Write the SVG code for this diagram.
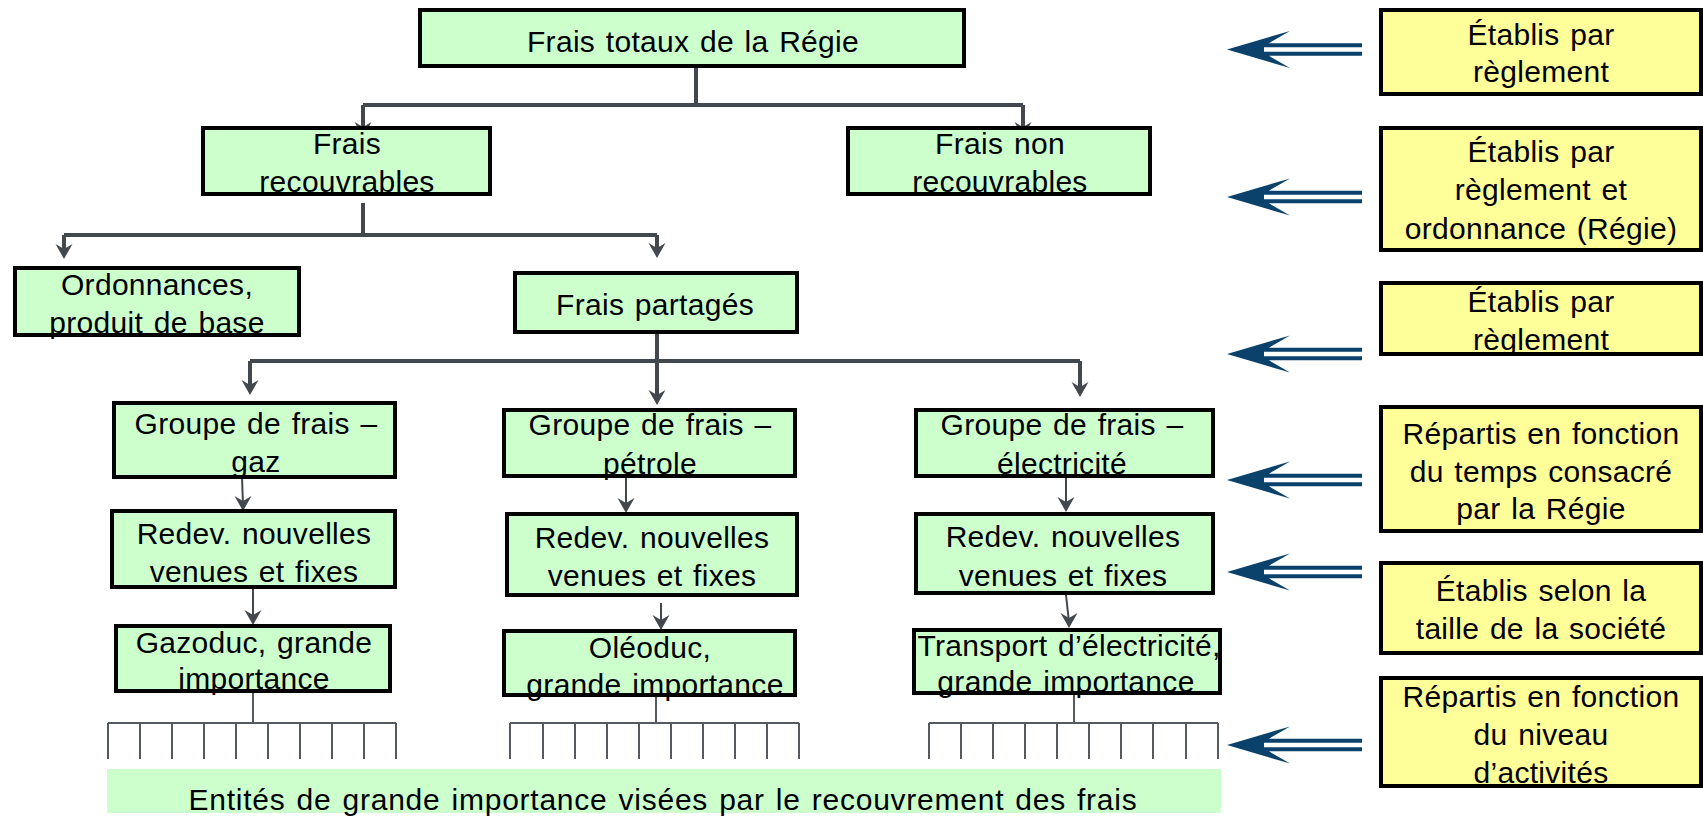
<svg xmlns="http://www.w3.org/2000/svg" xmlns:xlink="http://www.w3.org/1999/xlink" width="1703" height="818" viewBox="0 0 1703 818">
<style>
  .g { fill: #CCFFCC; stroke: #000; stroke-width: 4; }
  .y { fill: #FFFF99; stroke: #000; stroke-width: 4; }
  text { font-family: "Liberation Sans", Arial, sans-serif; font-size: 30px; fill: #000; text-anchor: middle; letter-spacing: 0.3px; word-spacing: 2px; }
  .wide { letter-spacing: 0.75px; }
  .c { fill: none; stroke: #43484E; stroke-width: 4; }
  .t { fill: none; stroke: #43484E; stroke-width: 2; }
  .comb { fill: none; stroke: #555A60; stroke-width: 2; }
  .ah { fill: #43484E; }
  .ba { fill: #0B426C; }
</style>
<defs>
  <path id="ah" d="M0,0 L-8.5,-15 L0,-10 L8.5,-15 Z"/>
  <path id="ba" d="M0,0 L63,-18.5 L37,-3.5 L37,3.5 L63,18.5 Z M35,-6.2 H135 V-2.2 H35 Z M35,2.2 H135 V6.2 H35 Z"/>
</defs>

<g id="connectors">
  <path class="c" d="M696,68 V105 M363,105 H1023 M363,105 V130 M1023,105 V130"/>
  <use href="#ah" class="ah" x="363" y="137"/>
  <use href="#ah" class="ah" x="1023" y="137"/>
  <path class="c" d="M363,203 V235 M64,235 H657 M64,235 V252 M657,235 V251"/>
  <use href="#ah" class="ah" x="64" y="259"/>
  <use href="#ah" class="ah" x="657" y="258"/>
  <path class="c" d="M657,334 V398 M250,361 H1080 M250,361 V388 M1080,361 V390"/>
  <use href="#ah" class="ah" x="250" y="395"/>
  <use href="#ah" class="ah" x="657" y="405"/>
  <use href="#ah" class="ah" x="1080" y="397"/>
  <path class="t" d="M242,477 L243,505 M253,589 V619 M626,478 V507 M661,603 V624 M1066,478 V506 M1066,595 L1069,622"/>
  <use href="#ah" class="ah" x="243" y="511"/>
  <use href="#ah" class="ah" x="253" y="625"/>
  <use href="#ah" class="ah" x="626" y="513"/>
  <use href="#ah" class="ah" x="661" y="630"/>
  <use href="#ah" class="ah" x="1066" y="512"/>
  <use href="#ah" class="ah" x="1069" y="628"/>
  <path class="comb" d="M253,693 V723 M108,723 H396 M108,723 V759 M140,723 V759 M172,723 V759 M204,723 V759 M236,723 V759 M268,723 V759 M300,723 V759 M332,723 V759 M364,723 V759 M396,723 V759"/>
  <path class="comb" d="M656,690 V723 M510,723 H799 M510,723 V759 M543,723 V759 M575,723 V759 M607,723 V759 M639,723 V759 M671,723 V759 M703,723 V759 M735,723 V759 M767,723 V759 M799,723 V759"/>
  <path class="comb" d="M1074,695 V723 M929,723 H1218 M929,723 V759 M961,723 V759 M993,723 V759 M1025,723 V759 M1057,723 V759 M1089,723 V759 M1121,723 V759 M1153,723 V759 M1186,723 V759 M1218,723 V759"/>
  <use href="#ba" class="ba" x="1227" y="49.5"/>
  <use href="#ba" class="ba" x="1227" y="197"/>
  <use href="#ba" class="ba" x="1227" y="354"/>
  <use href="#ba" class="ba" x="1227" y="480"/>
  <use href="#ba" class="ba" x="1227" y="572"/>
  <use href="#ba" class="ba" x="1227" y="745"/>
</g>

<g id="n-total"><rect class="g" x="420" y="10" width="544" height="56"/><text x="693" y="52">Frais totaux de la Régie</text></g>
<g id="n-recouvrables"><rect class="g" x="203" y="128" width="287" height="66"/><text x="347" y="154">Frais</text><text x="347" y="192">recouvrables</text></g>
<g id="n-nonrecouvrables"><rect class="g" x="848" y="128" width="302" height="66"/><text x="1000" y="154">Frais non</text><text x="1000" y="192">recouvrables</text></g>
<g id="n-ordonnances"><rect class="g" x="15" y="268" width="284" height="67"/><text x="157" y="295">Ordonnances,</text><text x="157" y="333">produit de base</text></g>
<g id="n-partages"><rect class="g" x="515" y="273" width="282" height="59"/><text x="655" y="315">Frais partagés</text></g>

<g id="n-grp-gaz"><rect class="g" x="114" y="403" width="281" height="74"/><text x="256" y="434">Groupe de frais –</text><text x="256" y="472">gaz</text></g>
<g id="n-grp-petrole"><rect class="g" x="504" y="410" width="291" height="66"/><text x="650" y="435">Groupe de frais –</text><text x="650" y="474">pétrole</text></g>
<g id="n-grp-elec"><rect class="g" x="916" y="410" width="297" height="66"/><text x="1062" y="435">Groupe de frais –</text><text x="1062" y="474">électricité</text></g>

<g id="n-redev-gaz"><rect class="g" x="112" y="511" width="283" height="76"/><text x="254" y="544">Redev. nouvelles</text><text x="254" y="582">venues et fixes</text></g>
<g id="n-redev-petrole"><rect class="g" x="507" y="514" width="290" height="81"/><text x="652" y="548">Redev. nouvelles</text><text x="652" y="586">venues et fixes</text></g>
<g id="n-redev-elec"><rect class="g" x="916" y="514" width="297" height="79"/><text x="1063" y="547">Redev. nouvelles</text><text x="1063" y="586">venues et fixes</text></g>

<g id="n-gazoduc"><rect class="g" x="116" y="626" width="274" height="65"/><text x="254" y="653">Gazoduc, grande</text><text x="254" y="689">importance</text></g>
<g id="n-oleoduc"><rect class="g" x="504" y="631" width="291" height="64"/><text x="650" y="658">Oléoduc,</text><text x="655" y="695">grande importance</text></g>
<g id="n-transport"><rect class="g" x="914" y="630" width="306" height="63"/><text x="1069" y="656">Transport d’électricité,</text><text x="1066" y="692">grande importance</text></g>

<g id="n-entites"><rect x="107" y="769" width="1114" height="44" fill="#CCFFCC"/><text class="wide" x="663" y="810">Entités de grande importance visées par le recouvrement des frais</text></g>

<g id="y1"><rect class="y" x="1381" y="10" width="320" height="84"/><text x="1541" y="45">Établis par</text><text x="1541" y="82">règlement</text></g>
<g id="y2"><rect class="y" x="1381" y="128" width="320" height="122"/><text x="1541" y="162">Établis par</text><text x="1541" y="200">règlement et</text><text x="1541" y="239">ordonnance (Régie)</text></g>
<g id="y3"><rect class="y" x="1381" y="283" width="320" height="71"/><text x="1541" y="312">Établis par</text><text x="1541" y="350">règlement</text></g>
<g id="y4"><rect class="y" x="1381" y="407" width="320" height="124"/><text x="1541" y="444">Répartis en fonction</text><text x="1541" y="482">du temps consacré</text><text x="1541" y="519">par la Régie</text></g>
<g id="y5"><rect class="y" x="1381" y="563" width="320" height="90"/><text x="1541" y="601">Établis selon la</text><text x="1541" y="639">taille de la société</text></g>
<g id="y6"><rect class="y" x="1381" y="678" width="320" height="108"/><text x="1541" y="707">Répartis en fonction</text><text x="1541" y="745">du niveau</text><text x="1541" y="783">d’activités</text></g>
</svg>
